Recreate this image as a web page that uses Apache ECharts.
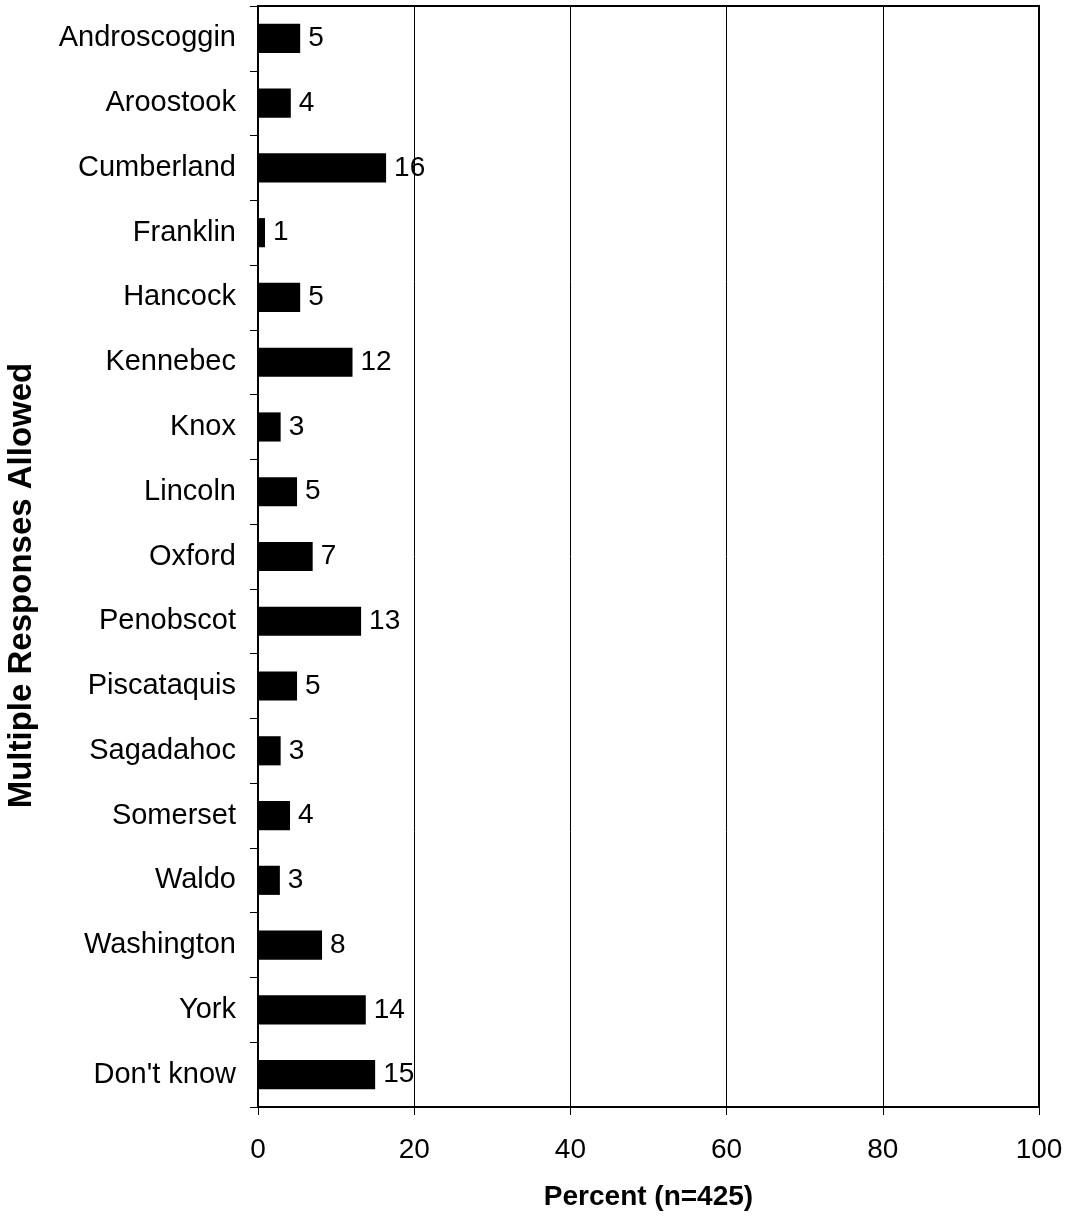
<!DOCTYPE html>
<html lang="en">
<head>
    <meta charset="UTF-8">
    <title>Multiple Responses Allowed</title>
    <script src="https://cdn.jsdelivr.net/npm/echarts@6/dist/echarts.min.js"></script>
    <style>
        html, body { margin: 0; padding: 0; background: #fff; }
        #chart { width: 1068px; height: 1218px; }
    </style>
</head>
<body>
    <div id="chart"></div>
    <script>
        // counties, top to bottom
        const counties = [
            'Androscoggin', 'Aroostook', 'Cumberland', 'Franklin', 'Hancock',
            'Kennebec', 'Knox', 'Lincoln', 'Oxford', 'Penobscot', 'Piscataquis',
            'Sagadahoc', 'Somerset', 'Waldo', 'Washington', 'York', "Don't know"
        ];
        // percent values
        const percents = [5.4, 4.2, 16.4, 0.9, 5.4, 12.1, 2.9, 5.0, 7.0, 13.2, 5.0, 2.9, 4.1, 2.8, 8.2, 13.8, 15.0];

        const font = 'Liberation Sans, Arial, sans-serif';
        const chart = echarts.init(document.getElementById('chart'));

        chart.setOption({
            animation: false,
            textStyle: { fontFamily: font },
            grid: {
                left: 258, right: 29, top: 6, bottom: 111,
                outerBoundsMode: 'none',
                show: true, borderColor: '#000', borderWidth: 2
            },
            xAxis: {
                type: 'value',
                min: 0, max: 100, interval: 20,
                name: 'Percent (n=425)',
                nameLocation: 'middle',
                nameGap: 76,
                nameTextStyle: { fontSize: 28, fontWeight: 'bold', color: '#000', fontFamily: font },
                axisLine: { show: true, lineStyle: { color: '#000', width: 2 } },
                axisTick: { show: true, length: 8, lineStyle: { color: '#000' } },
                axisLabel: { fontSize: 28, color: '#000', margin: 29, fontFamily: font },
                splitLine: { show: true, lineStyle: { color: '#000', width: 1 } }
            },
            yAxis: {
                type: 'category',
                data: counties,
                inverse: true,
                name: 'Multiple Responses Allowed',
                nameLocation: 'middle',
                nameGap: 220,
                nameRotate: 90,
                nameTextStyle: {
                    fontSize: 33, fontWeight: 'bold', color: '#000', fontFamily: font,
                    padding: [0, 58, 0, 0]
                },
                axisLine: { show: true, lineStyle: { color: '#000', width: 2 } },
                axisTick: { show: true, length: 8, lineStyle: { color: '#000' } },
                axisLabel: { fontSize: 29, color: '#000', margin: 22, fontFamily: font }
            },
            series: [{
                type: 'bar',
                data: percents,
                barWidth: '45%',
                itemStyle: { color: '#000' },
                label: {
                    show: true,
                    position: 'right',
                    distance: 8,
                    fontSize: 28,
                    color: '#000',
                    fontFamily: font,
                    formatter: p => Math.round(p.value)
                }
            }]
        });
    </script>
</body>
</html>
